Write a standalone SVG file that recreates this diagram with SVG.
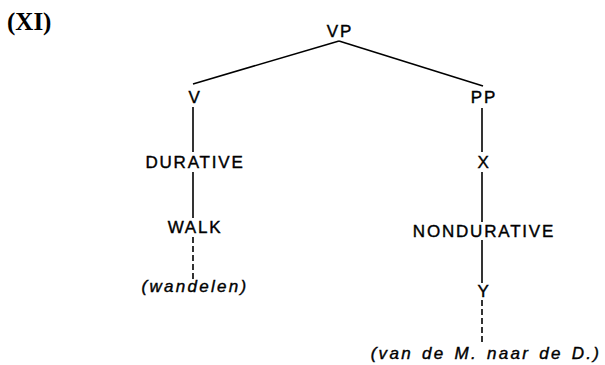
<svg xmlns="http://www.w3.org/2000/svg" width="605" height="365" viewBox="0 0 605 365">
<style>
  .lbl { font-family: "Liberation Sans", Arial, sans-serif; font-size: 17px; letter-spacing: 1.8px; text-anchor: middle; fill: #000; stroke: #000; stroke-width: 0.4px; }
  .it { font-family: "Liberation Sans", Arial, sans-serif; font-size: 17px; font-style: italic; letter-spacing: 2.3px; text-anchor: middle; fill: #000; stroke: #000; stroke-width: 0.4px; }
  .edge { stroke: #000; stroke-width: 1.6; fill: none; }
  .dash { stroke-dasharray: 6 3; }
  .title { font-family: "Liberation Serif", "Times New Roman", serif; font-size: 25px; font-weight: bold; fill: #000; }
</style>
<rect width="605" height="365" fill="#fff"/>
<text class="title" x="7" y="30">(XI)</text>
<g id="connectors">
  <line class="edge" x1="339" y1="41" x2="193" y2="84"/>
  <line class="edge" x1="339" y1="41" x2="483" y2="86"/>
  <line class="edge" x1="193" y1="107" x2="193" y2="152"/>
  <line class="edge" x1="193" y1="172" x2="193" y2="218"/>
  <line class="edge dash" x1="193" y1="237" x2="193" y2="282"/>
  <line class="edge" x1="482" y1="108" x2="482" y2="152"/>
  <line class="edge" x1="482" y1="172" x2="482" y2="222"/>
  <line class="edge" x1="482" y1="240" x2="482" y2="283"/>
  <line class="edge dash" x1="482" y1="300" x2="482" y2="344"/>
</g>
<g id="VP"><text class="lbl" x="340" y="37">VP</text></g>
<g id="V"><text class="lbl" x="195" y="103">V</text></g>
<g id="DURATIVE"><text class="lbl" x="195" y="168">DURATIVE</text></g>
<g id="WALK"><text class="lbl" x="195" y="233">WALK</text></g>
<g id="wandelen"><text class="it" x="195" y="292">(wandelen)</text></g>
<g id="PP"><text class="lbl" x="484" y="103">PP</text></g>
<g id="X"><text class="lbl" x="484" y="168">X</text></g>
<g id="NONDURATIVE"><text class="lbl" x="484" y="237">NONDURATIVE</text></g>
<g id="Y"><text class="lbl" x="484" y="297">Y</text></g>
<g id="vandeM"><text class="it" x="486" y="359" style="word-spacing:2px">(van de M. naar de D.)</text></g>
</svg>
